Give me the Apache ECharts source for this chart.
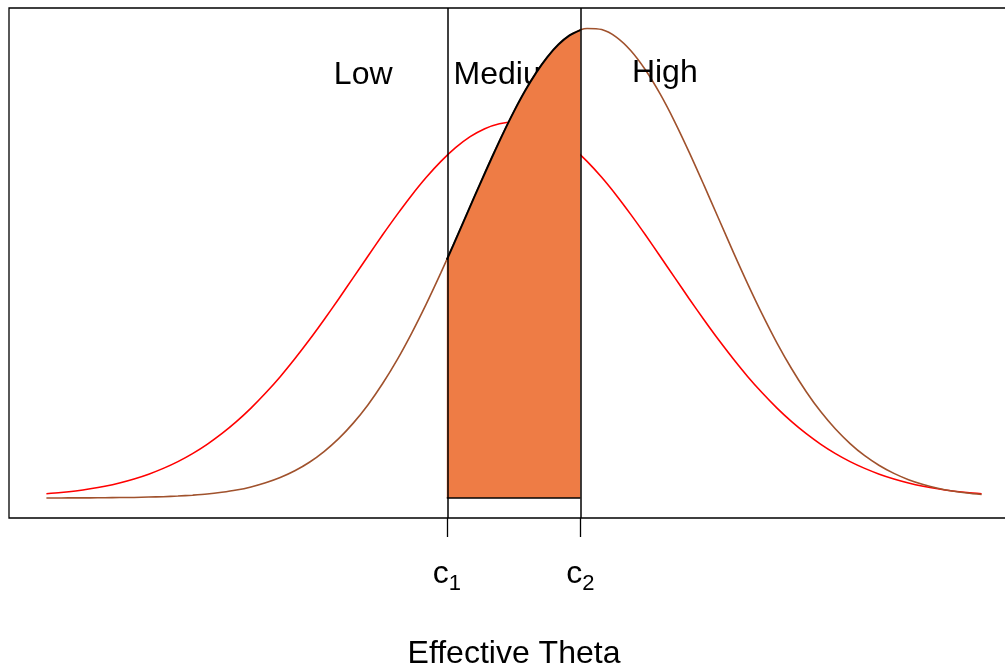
<!DOCTYPE html>
<html>
<head>
<meta charset="utf-8">
<script src="https://cdn.jsdelivr.net/npm/echarts@6/dist/echarts.min.js"></script>
<style>
html,body{margin:0;padding:0;background:#fff;}
#chart{width:1005px;height:668px;}
</style>
</head>
<body>
<div id="chart"></div>
<script>
// Effective theta grid and the two density curves
const thetaGrid = [-4,-3.875,-3.75,-3.625,-3.5,-3.375,-3.25,-3.125,-3,-2.875,-2.75,-2.625,-2.5,-2.375,-2.25,-2.125,-2,-1.875,-1.75,-1.625,-1.5,-1.375,-1.25,-1.125,-1,-0.875,-0.75,-0.625,-0.5,-0.375,-0.25,-0.125,0,0.125,0.25,0.375,0.5,0.625,0.75,0.875,1,1.125,1.25,1.375,1.5,1.625,1.75,1.875,2,2.125,2.25,2.375,2.5,2.625,2.75,2.875,3,3.125,3.25,3.375,3.5,3.625,3.75,3.875,4];
const redDensity = [0.0033,0.0043,0.0056,0.0073,0.0094,0.0120,0.0152,0.0190,0.0236,0.0290,0.0354,0.0428,0.0513,0.0609,0.0717,0.0837,0.0968,0.1111,0.1262,0.1422,0.1588,0.1758,0.1929,0.2098,0.2261,0.2416,0.2559,0.2686,0.2795,0.2883,0.2947,0.2987,0.3000,0.2987,0.2947,0.2883,0.2795,0.2686,0.2559,0.2416,0.2261,0.2098,0.1929,0.1758,0.1588,0.1422,0.1262,0.1111,0.0968,0.0837,0.0717,0.0609,0.0513,0.0428,0.0354,0.0290,0.0236,0.0190,0.0152,0.0120,0.0094,0.0073,0.0056,0.0043,0.0033];
const brownDensity = [0.0000,0.0000,0.0001,0.0001,0.0002,0.0003,0.0004,0.0007,0.0010,0.0015,0.0022,0.0031,0.0045,0.0063,0.0088,0.0121,0.0163,0.0217,0.0285,0.0370,0.0473,0.0597,0.0742,0.0911,0.1102,0.1316,0.1549,0.1798,0.2059,0.2326,0.2591,0.2847,0.3085,0.3297,0.3475,0.3613,0.3705,0.3747,0.3738,0.3678,0.3569,0.3415,0.3224,0.3002,0.2756,0.2496,0.2230,0.1964,0.1707,0.1463,0.1236,0.1031,0.0848,0.0687,0.0550,0.0434,0.0337,0.0259,0.0196,0.0146,0.0108,0.0078,0.0056,0.0040,0.0028];
// Shaded (Medium) region under the brown curve between c1 and c2
const shadeTheta = [-0.575,-0.48,-0.385,-0.29,-0.19,-0.095,0,0.095,0.19,0.285,0.38,0.475,0.568];
const shadeDensity = [0.1901,0.2101,0.2305,0.2507,0.2715,0.2906,0.3085,0.3249,0.3394,0.3518,0.3618,0.3691,0.3734];
// Cut points
const cutSub = ['1','2'];
const cutTheta = [-0.575, 0.568];
// Region labels
const regionNames = ['Low','Medium','High'];
const regionTheta = [-1.29,-0.03,1.29];
const regionY = [0.3371,0.3371,0.3387];
const axisTitle = 'Effective Theta';

const FONT = '"Liberation Sans", Arial, Helvetica, sans-serif';
const chart = echarts.init(document.getElementById('chart'), null, {renderer:'canvas'});

const zip = (xs, ys) => xs.map((x,i)=>[x, ys[i]]);

const option = {
  animation: false,
  backgroundColor: '#ffffff',
  grid: {left: 9, top: 8, width: 1010, height: 510, outerBoundsMode: 'none', containLabel: false,
         show: true, borderColor: '#000', borderWidth: 1.3, backgroundColor: 'transparent'},
  xAxis: {
    type: 'value', min: -4.32, max: 4.32,
    splitLine: {show: false},
    axisLine: {show: false, onZero: false},
    axisTick: {show: true, customValues: cutTheta, length: 19, inside: false, lineStyle: {color: '#000', width: 1.3}},
    axisLabel: {
      show: true, customValues: cutTheta, margin: 40,
      formatter: function (v) {
        const i = cutTheta.findIndex(t => Math.abs(t - v) < 1e-6);
        return '{c|c}{s|' + cutSub[i] + '}';
      },
      rich: {
        c: {fontFamily: FONT, fontSize: 32, lineHeight: 32, color: '#000', verticalAlign: 'top'},
        s: {fontFamily: FONT, fontSize: 22, lineHeight: 22, color: '#000', verticalAlign: 'top', padding: [15,0,0,0]}
      }
    },
    name: axisTitle, nameLocation: 'middle', nameGap: 120,
    nameTextStyle: {fontFamily: FONT, fontSize: 32, color: '#000'}
  },
  yAxis: {
    type: 'value', min: -0.016, max: 0.391,
    show: false, splitLine: {show: false}
  },
  series: [
    {
      type: 'line', name: 'red', data: zip(thetaGrid, redDensity),
      showSymbol: false, smooth: 0.3, z: 2,
      lineStyle: {color: '#ff0000', width: 1.6}
    },
    {
      type: 'line', name: 'brown', data: zip(thetaGrid, brownDensity),
      showSymbol: false, smooth: 0.3, z: 2,
      lineStyle: {color: '#a0522d', width: 1.6}
    },
    {
      type: 'scatter', name: 'labels', z: 3, symbolSize: 0,
      itemStyle: {opacity: 1},
      data: regionNames.map((n,i)=>({value:[regionTheta[i], regionY[i]], name:n})),
      label: {show: true, position: 'inside', formatter: p => p.name, fontFamily: FONT, fontSize: 32,
              color: '#000', opacity: 1, textBorderWidth: 0}
    },
    {
      type: 'line', name: 'shade', data: zip(shadeTheta, shadeDensity),
      showSymbol: false, smooth: 0.3, z: 4,
      lineStyle: {color: '#000', width: 2},
      areaStyle: {color: '#ee7c45', opacity: 1, origin: 0}
    },
    {
      type: 'line', name: 'base', data: [[cutTheta[0], 0], [cutTheta[1], 0]],
      showSymbol: false, z: 5,
      lineStyle: {color: '#000', width: 1.5},
      markLine: {
        silent: true, symbol: 'none', animation: false,
        label: {show: false},
        lineStyle: {color: '#000', width: 1.5, type: 'solid'},
        data: cutTheta.map(t => ({xAxis: t}))
      }
    }
  ]
};
chart.setOption(option);
</script>
</body>
</html>
